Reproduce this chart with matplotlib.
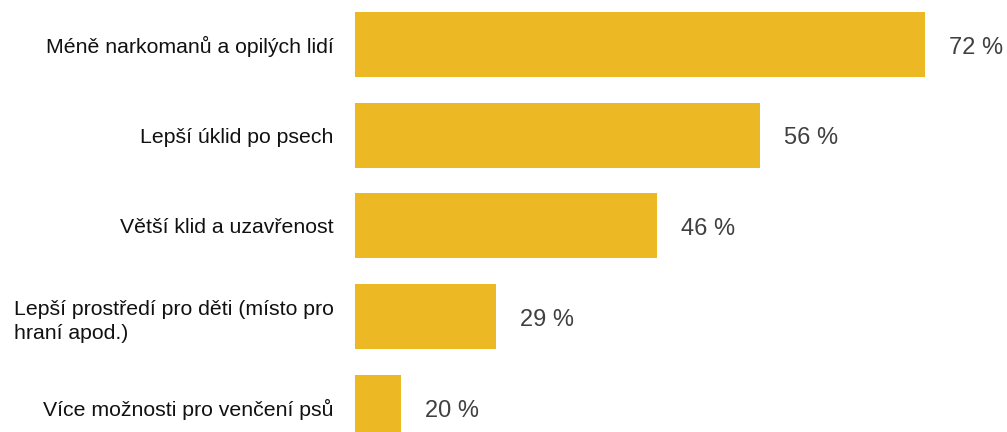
import matplotlib
matplotlib.use("Agg")
import matplotlib.pyplot as plt
from matplotlib.transforms import ScaledTranslation

categories = [
    "Méně narkomanů a opilých lidí",
    "Lepší úklid po psech",
    "Větší klid a uzavřenost",
    "Lepší prostředí pro děti (místo pro\nhraní apod.)",
    "Více možnosti pro venčení psů",
]
values = [72.34, 55.79, 45.55, 29.45, 20.02]
value_labels = ["72 %", "56 %", "46 %", "29 %", "20 %"]

plt.rcParams['font.family'] = ['Liberation Sans', 'DejaVu Sans']

W, H = 1007, 432
fig = plt.figure(figsize=(W / 100, H / 100), dpi=100)
ax_left = 355 / W
ax_bottom = (H - 452.7) / H
ax_top = (H + 0.85) / H
ax = fig.add_axes([ax_left, ax_bottom, 1 - ax_left, ax_top - ax_bottom])

x0 = 15.4
pos = list(range(len(categories)))
ax.barh(pos, [v - x0 for v in values], left=x0, height=0.717, color='#ECB925')
ax.set_xlim(x0, 80.5)
ax.set_ylim(4.5, -0.5)

ax.set_yticks(pos)
ax.set_yticklabels(categories, fontsize=15.3, color='#111111')
for lbl in ax.get_yticklabels():
    lbl.set_multialignment('left')
    lbl.set_linespacing(1.38)
    if "\n" in lbl.get_text():
        lbl.set_transform(lbl.get_transform() +
                          ScaledTranslation(0, 4 / 100, fig.dpi_scale_trans))
ax.tick_params(axis='y', length=0, pad=15.5)
ax.set_xticks([])
for s in ax.spines.values():
    s.set_visible(False)

for p, v, t in zip(pos, values, value_labels):
    ax.annotate(t, (v, p), xytext=(17.3, -6.6), textcoords='offset points',
                va='baseline', ha='left', fontsize=17, color='#404040')

fig.savefig('out.png', dpi=100)
